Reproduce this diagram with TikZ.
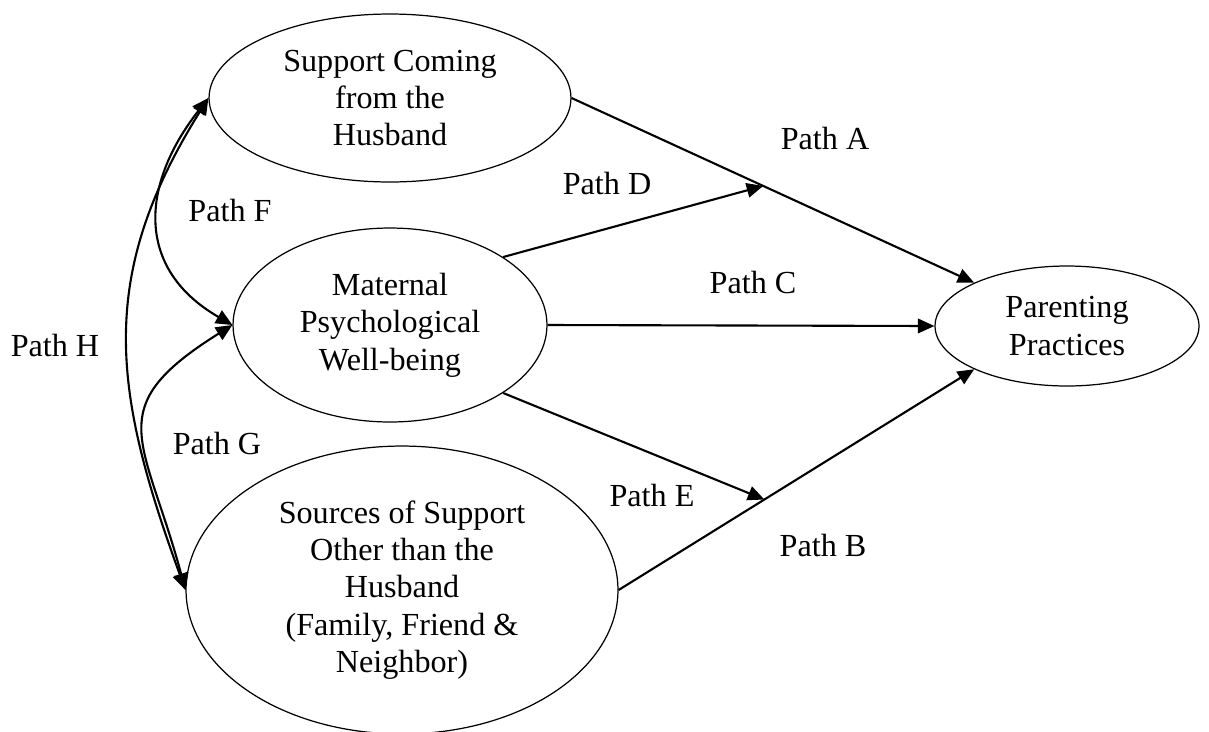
\documentclass[tikz,border=0pt]{standalone}
\usepackage{fontspec}
\setmainfont{Liberation Serif}
\usetikzlibrary{arrows.meta,shapes.geometric}

\tikzset{
  construct/.style={draw, ellipse, line width=0.7pt, align=center, inner sep=1pt},
  pathline/.style={-{Triangle[length=0.33cm,width=0.29cm]}, line width=1.2pt},
  twoway/.style={{Triangle[length=0.33cm,width=0.29cm]}-{Triangle[length=0.33cm,width=0.29cm]}, line width=1.2pt},
}

\begin{document}
\begin{tikzpicture}[x=0.02cm, y=-0.02cm, font=\fontsize{18.3}{21.3}\selectfont]
    \useasboundingbox (0,0) rectangle (1209,731);

    % the four constructs
    \node[construct, minimum width=7.24cm, minimum height=3.36cm] (husb) at (390,98)
        {Support Coming\\from the\\Husband};
    \node[construct, minimum width=6.28cm, minimum height=3.88cm] (mat) at (390,325)
        {Maternal\\Psychological\\Well-being};
    \node[construct, minimum width=8.64cm, minimum height=5.76cm] (src) at (402,590)
        {Sources of Support\\Other than the\\Husband\\(Family, Friend \&\\Neighbor)};
    \node[construct, minimum width=5.28cm, minimum height=2.4cm] (parent) at (1067,326)
        {Parenting\\Practices};

    % direct paths
    \draw[pathline] (husb.east) -- (parent.155);
    \draw[pathline] (mat.east) -- (parent.west);
    \draw[pathline] (src.east) -- (parent.205);

    % mediated paths end on A and B
    \path (husb.east) -- (parent.155) coordinate[pos=0.476] (midA);
    \path (src.east) -- (parent.205) coordinate[pos=0.41] (midB);
    \draw[pathline] (mat.31) -- (midA);
    \draw[pathline] (mat.-31) -- (midB);

    % correlations on the left
    \draw[twoway] (husb.west) to[out=232, in=150, looseness=1.25] (mat.west);
    \draw[twoway] (husb.west) to[out=238, in=110, looseness=1.1] (src.west);
    \draw[twoway] (mat.west) to[out=212, in=105, looseness=1.5] (src.west);

    % labels
    \node (lblA) at (825,138) {Path A};
    \node (lblB) at (823,545) {Path B};
    \node (lblC) at (753,282) {Path C};
    \node (lblD) at (607,183) {Path D};
    \node (lblE) at (652,495) {Path E};
    \node (lblF) at (230,210) {Path F};
    \node (lblG) at (217,443) {Path G};
    \node (lblH) at (55,345) {Path H};
\end{tikzpicture}
\end{document}
